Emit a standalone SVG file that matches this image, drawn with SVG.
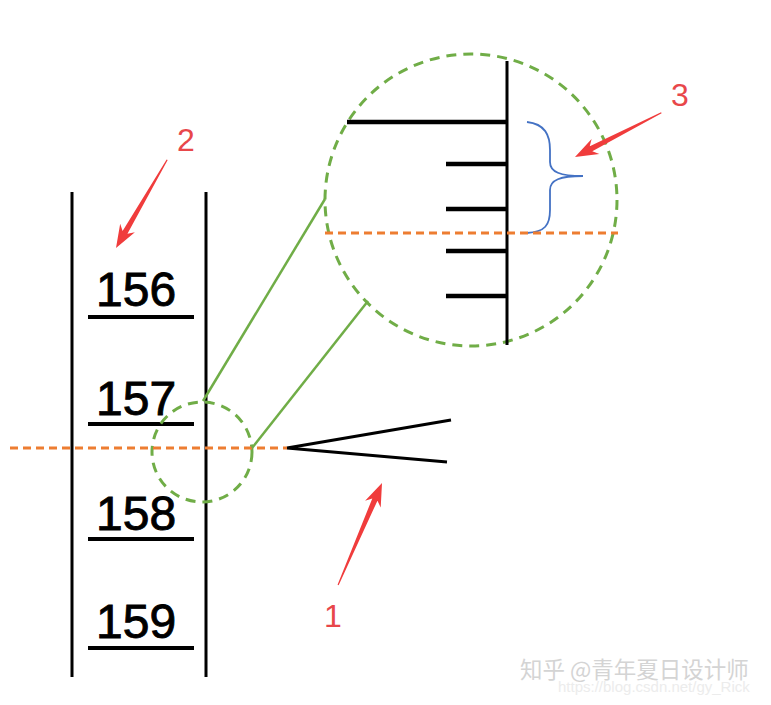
<svg xmlns="http://www.w3.org/2000/svg" width="771" height="705" viewBox="0 0 771 705">
<style>
.bk{stroke:#000;fill:none}
.num{font-family:"Liberation Sans",Arial,sans-serif;font-size:48px;fill:#000;stroke:#000;stroke-width:0.9}
.lab{font-family:"Liberation Sans",Arial,sans-serif;font-size:32px;fill:#e8474a}
.gd{stroke:#70ad47;stroke-width:3;fill:none;stroke-dasharray:10 7}
.od{stroke:#ed7d31;stroke-width:3;fill:none;stroke-dasharray:8 5}
.gs{stroke:#70ad47;stroke-width:2.5;fill:none}
.arr{fill:#f03c3c}
</style>
<rect width="771" height="705" fill="#fff"/>
<g id="scale">
<line class="bk" stroke-width="3" x1="72" y1="192" x2="72" y2="677"/>
<line class="bk" stroke-width="3" x1="206" y1="192" x2="206" y2="677"/>
<text class="num" x="96" y="306">156</text>
<line class="bk" stroke-width="4" x1="88" y1="317" x2="194" y2="317"/>
<text class="num" x="96" y="415">157</text>
<line class="bk" stroke-width="4" x1="88" y1="424" x2="194" y2="424"/>
<text class="num" x="96" y="530">158</text>
<line class="bk" stroke-width="4" x1="88" y1="539" x2="194" y2="539"/>
<text class="num" x="96" y="638">159</text>
<line class="bk" stroke-width="4" x1="88" y1="648" x2="194" y2="648"/>
</g>
<g id="pointer">
<polyline class="bk" stroke-width="3" points="451,420 287,448 447,462"/>
</g>
<g id="zoom-small">
<circle class="gd" cx="202" cy="452" r="50"/>
</g>
<g id="zoom-big">
<circle class="gd" cx="471" cy="200" r="146"/>
<line class="bk" stroke-width="3" x1="507" y1="61" x2="507" y2="345"/>
<line class="bk" stroke-width="4.5" x1="347" y1="122" x2="507" y2="122"/>
<line class="bk" stroke-width="4.5" x1="446" y1="164" x2="507" y2="164"/>
<line class="bk" stroke-width="4.5" x1="446" y1="209" x2="507" y2="209"/>
<line class="bk" stroke-width="4.5" x1="446" y1="251" x2="507" y2="251"/>
<line class="bk" stroke-width="4.5" x1="446" y1="296" x2="507" y2="296"/>
<path d="M527,122 C545,124 550,135 550,150 L550,162 C550,172 560,176 583,176 C560,176 550,180 550,190 L550,210 C550,225 545,232 527,233" fill="none" stroke="#4472c4" stroke-width="1.8"/>
</g>
<g id="connectors">
<line class="od" x1="10" y1="448" x2="287" y2="448"/>
<line class="od" x1="325" y1="233" x2="618" y2="233"/>
<line class="gs" x1="203" y1="401" x2="325" y2="199"/>
<line class="gs" x1="252" y1="448" x2="368" y2="301"/>
</g>
<g id="arrow-1">
<path class="arr" transform="translate(382,483) rotate(-66.7)" d="M-111,-0.6 L-18,-2.8 L-23,-8.5 L0,0 L-23,8.5 L-18,2.8 L-111,0.6 Z"/>
<text class="lab" x="333" y="627" text-anchor="middle">1</text>
</g>
<g id="arrow-2">
<path class="arr" transform="translate(116,248) rotate(120.1)" d="M-102,-0.6 L-18,-2.8 L-23,-8.5 L0,0 L-23,8.5 L-18,2.8 L-102,0.6 Z"/>
<text class="lab" x="186" y="151" text-anchor="middle">2</text>
</g>
<g id="arrow-3">
<path class="arr" transform="translate(575,157) rotate(152.9)" d="M-97,-0.6 L-18,-2.8 L-23,-8.5 L0,0 L-23,8.5 L-18,2.8 L-97,0.6 Z"/>
<text class="lab" x="680" y="106" text-anchor="middle">3</text>
</g>
<g id="watermark">
<text x="558" y="692" font-family="'Liberation Sans',Arial,sans-serif" font-size="15" fill="#ececec">https://blog.csdn.net/gy_Rick</text>
<text x="520" y="678" font-family="'Noto Sans CJK SC','Liberation Sans',sans-serif" font-size="22.5" fill="#d4d4d4">知乎 @青年夏日设计师</text>
</g>
</svg>
